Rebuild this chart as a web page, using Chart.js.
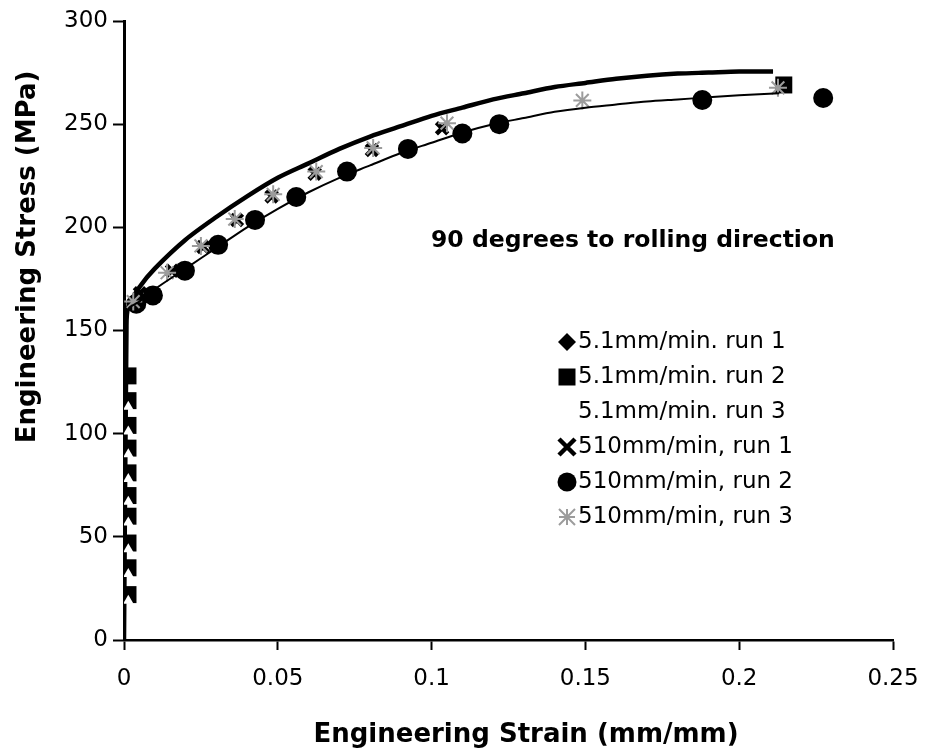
<!DOCTYPE html>
<html>
<head>
<meta charset="utf-8">
<script src="https://cdn.jsdelivr.net/npm/chart.js@4.4.1/dist/chart.umd.min.js"></script>
<style>
    html, body { margin: 0; padding: 0; background: #fff; }
    #wrap { width: 931px; height: 750px; }
</style>
</head>
<body>
<div id="wrap"><canvas id="stressStrainChart" width="931" height="750"></canvas></div>
<script>
// values (strain in mm/mm, stress in MPa)
const seriesNames = ['5.1mm/min. run 1', '5.1mm/min. run 2', '5.1mm/min. run 3',
                     '510mm/min, run 1', '510mm/min, run 2', '510mm/min, run 3'];

const xTickValues = [0, 0.05, 0.1, 0.15, 0.2, 0.25];
const xTickLabels = ['0', '0.05', '0.1', '0.15', '0.2', '0.25'];
const yTickValues = [0, 50, 100, 150, 200, 250, 300];
const yTickLabels = ['0', '50', '100', '150', '200', '250', '300'];

// 5.1 mm/min run 1 - dense diamonds, reads as the thick upper curve
const strain51r1 = [0, 0.0008, 0.0013, 0.005, 0.01, 0.02, 0.03, 0.04, 0.05, 0.06, 0.07, 0.08,
                    0.09, 0.10, 0.11, 0.12, 0.13, 0.14, 0.15, 0.16, 0.17, 0.18, 0.19, 0.20, 0.211];
const stress51r1 = [0, 150, 161, 171, 180, 194, 205, 215, 224, 231, 238, 244,
                    249, 254, 258, 262, 265, 268, 270, 272, 273.5, 274.5, 275, 275.5, 275.5];

// 5.1 mm/min run 2 - squares, elastic part plus the last point
const strain51r2 = [0.0013, 0.0013, 0.0013, 0.0013, 0.0013, 0.0013, 0.0013, 0.0013, 0.0013, 0.0013, 0.2145];
const stress51r2 = [22, 35, 47, 60, 70, 81, 93, 104, 116, 128, 269];

// 5.1 mm/min run 3 - white markers in the elastic part, then the thin lower curve
const strain51r3 = [0.0014, 0.0014, 0.0014, 0.0014, 0.0014, 0.0014, 0.0014, 0.0014, 0.0014,
                    0.0013, 0.005, 0.01, 0.02, 0.03, 0.04, 0.05, 0.06, 0.07, 0.08, 0.09, 0.10,
                    0.11, 0.12, 0.13, 0.14, 0.15, 0.16, 0.17, 0.18, 0.19, 0.20, 0.213];
const stress51r3 = [19, 32, 44, 57, 67, 78, 90, 101, 113,
                    160, 164, 170, 180, 190, 200, 209, 217, 224, 230, 236, 241,
                    246, 250, 253, 256, 258, 259.5, 261, 262, 263, 264, 265];

// 510 mm/min run 1 - X markers
const strain510r1 = [0.0052, 0.0156, 0.0257, 0.0367, 0.048, 0.062, 0.0806, 0.1034];
const stress510r1 = [168, 179, 190.5, 203.6, 215, 226, 237.5, 248];

// 510 mm/min run 2 - circles
const strain510r2 = [0.004, 0.0094, 0.0198, 0.0306, 0.0426, 0.056, 0.0725, 0.0923, 0.11, 0.122, 0.188, 0.2273];
const stress510r2 = [163, 167, 179, 191.5, 203.6, 214.7, 227, 238, 245.5, 250, 261.7, 262.7];

// 510 mm/min run 3 - grey stars
const strain510r3 = [0.003, 0.014, 0.025, 0.036, 0.0485, 0.0625, 0.081, 0.105, 0.149, 0.2126];
const stress510r3 = [164, 178, 191, 204, 216, 227, 238.5, 250.5, 261.5, 267.6];

function toPoints(xs, ys) {
    return xs.map(function(x, i) { return { x: x, y: ys[i] }; });
}

const FONT = 'DejaVu Sans';
const GREY = '#9c9c9c';

function drawMarker(ctx, kind, x, y, r, color) {
    ctx.save();
    ctx.fillStyle = color;
    ctx.strokeStyle = color;
    ctx.beginPath();
    if (kind === 'diamond') {
        ctx.moveTo(x, y - r); ctx.lineTo(x + r, y); ctx.lineTo(x, y + r); ctx.lineTo(x - r, y);
        ctx.closePath(); ctx.fill();
    } else if (kind === 'square') {
        ctx.rect(x - r, y - r, 2 * r, 2 * r); ctx.fill();
    } else if (kind === 'circle') {
        ctx.arc(x, y, r, 0, Math.PI * 2); ctx.fill();
    } else if (kind === 'x') {
        ctx.lineWidth = 4.5;
        ctx.moveTo(x - r, y - r); ctx.lineTo(x + r, y + r);
        ctx.moveTo(x + r, y - r); ctx.lineTo(x - r, y + r);
        ctx.stroke();
    } else if (kind === 'star') {
        ctx.lineWidth = 2;
        ctx.moveTo(x - r, y - r); ctx.lineTo(x + r, y + r);
        ctx.moveTo(x + r, y - r); ctx.lineTo(x - r, y + r);
        ctx.moveTo(x, y - r); ctx.lineTo(x, y + r);
        ctx.moveTo(x - r, y); ctx.lineTo(x + r, y);
        ctx.stroke();
    }
    ctx.restore();
}

// legend, note and axis titles drawn in the same spots as the scan
const overlayPlugin = {
    id: 'overlay',
    afterDraw: function(chart) {
        const ctx = chart.ctx;
        const legendKinds = ['diamond', 'square', null, 'x', 'circle', 'star'];
        const legendColors = ['#000', '#000', '#fff', '#000', '#000', GREY];
        const legendSizes = [9, 8.5, 0, 8, 9.5, 8];
        ctx.save();
        ctx.font = '23px "' + FONT + '"';
        ctx.textBaseline = 'middle';
        ctx.textAlign = 'left';
        seriesNames.forEach(function(name, i) {
            const y = 342 + i * 35;
            if (legendKinds[i]) {
                drawMarker(ctx, legendKinds[i], 567, y, legendSizes[i], legendColors[i]);
            }
            ctx.fillStyle = '#000';
            ctx.fillText(name, 578, y);
        });

        ctx.font = 'bold 23.5px "' + FONT + '"';
        ctx.fillText('90 degrees to rolling direction', 431, 241);

        ctx.font = 'bold 26px "' + FONT + '"';
        ctx.textAlign = 'center';
        ctx.fillText('Engineering Strain (mm/mm)', 526, 735);

        ctx.translate(28, 257);
        ctx.rotate(-Math.PI / 2);
        ctx.fillText('Engineering Stress (MPa)', 0, 0);
        ctx.restore();
    }
};

const ctx = document.getElementById('stressStrainChart').getContext('2d');
const stressStrainChart = new Chart(ctx, {
    type: 'scatter',
    data: {
        datasets: [{
            label: seriesNames[0],
            data: toPoints(strain51r1, stress51r1),
            showLine: true,
            borderColor: '#000',
            borderWidth: 4.5,
            pointRadius: 0,
            tension: 0.3,
            order: 6
        }, {
            label: seriesNames[2],
            data: toPoints(strain51r3, stress51r3),
            showLine: true,
            borderColor: '#000',
            borderWidth: 2,
            tension: 0.3,
            pointStyle: 'triangle',
            pointBackgroundColor: '#fff',
            pointBorderWidth: 0,
            pointRadius: function(c) { return c.raw && c.raw.y < 150 ? 6 : 0; },
            segment: {
                borderColor: function(c) { return c.p0.parsed.y < 150 ? 'rgba(0,0,0,0)' : '#000'; }
            },
            order: 1
        }, {
            label: seriesNames[1],
            data: toPoints(strain51r2, stress51r2),
            pointStyle: 'rect',
            pointRadius: 12,
            pointBackgroundColor: '#000',
            pointBorderColor: '#000',
            pointBorderWidth: 0,
            order: 5
        }, {
            label: seriesNames[3],
            data: toPoints(strain510r1, stress510r1),
            pointStyle: 'crossRot',
            pointRadius: 8,
            pointBorderColor: '#000',
            pointBorderWidth: 4.5,
            order: 3
        }, {
            label: seriesNames[4],
            data: toPoints(strain510r2, stress510r2),
            pointStyle: 'circle',
            pointRadius: 10,
            pointBackgroundColor: '#000',
            pointBorderColor: '#000',
            pointBorderWidth: 0,
            order: 4
        }, {
            label: seriesNames[5],
            data: toPoints(strain510r3, stress510r3),
            pointStyle: 'star',
            pointRadius: 9,
            pointBorderColor: GREY,
            pointBorderWidth: 2,
            order: 2
        }]
    },
    options: {
        responsive: false,
        animation: false,
        layout: { padding: { top: 21, right: 38, bottom: 0, left: 0 } },
        plugins: {
            legend: { display: false },
            tooltip: { enabled: false }
        },
        scales: {
            x: {
                type: 'linear',
                min: 0,
                max: 0.25,
                afterFit: function(scale) {
                    scale.height = 110;
                    scale.paddingLeft = 0;
                    scale.paddingRight = 0;
                },
                afterBuildTicks: function(scale) {
                    scale.ticks = xTickValues.map(function(v) { return { value: v }; });
                },
                ticks: {
                    color: '#000',
                    padding: 15,
                    maxRotation: 0,
                    font: { family: FONT, size: 23 },
                    callback: function(v, i) { return xTickLabels[i]; }
                },
                grid: { drawOnChartArea: false, tickLength: 10, tickColor: '#000', tickWidth: 2 },
                border: { color: '#000', width: 2.5 }
            },
            y: {
                min: 0,
                max: 300,
                afterFit: function(scale) { scale.width = 124; },
                afterBuildTicks: function(scale) {
                    scale.ticks = yTickValues.map(function(v) { return { value: v }; });
                },
                ticks: {
                    color: '#000',
                    padding: 5,
                    font: { family: FONT, size: 23 },
                    callback: function(v, i) { return yTickLabels[i]; }
                },
                grid: { drawOnChartArea: false, tickLength: 11, tickColor: '#000', tickWidth: 2 },
                border: { color: '#000', width: 3 }
            }
        }
    },
    plugins: [overlayPlugin]
});
</script>
</body>
</html>
